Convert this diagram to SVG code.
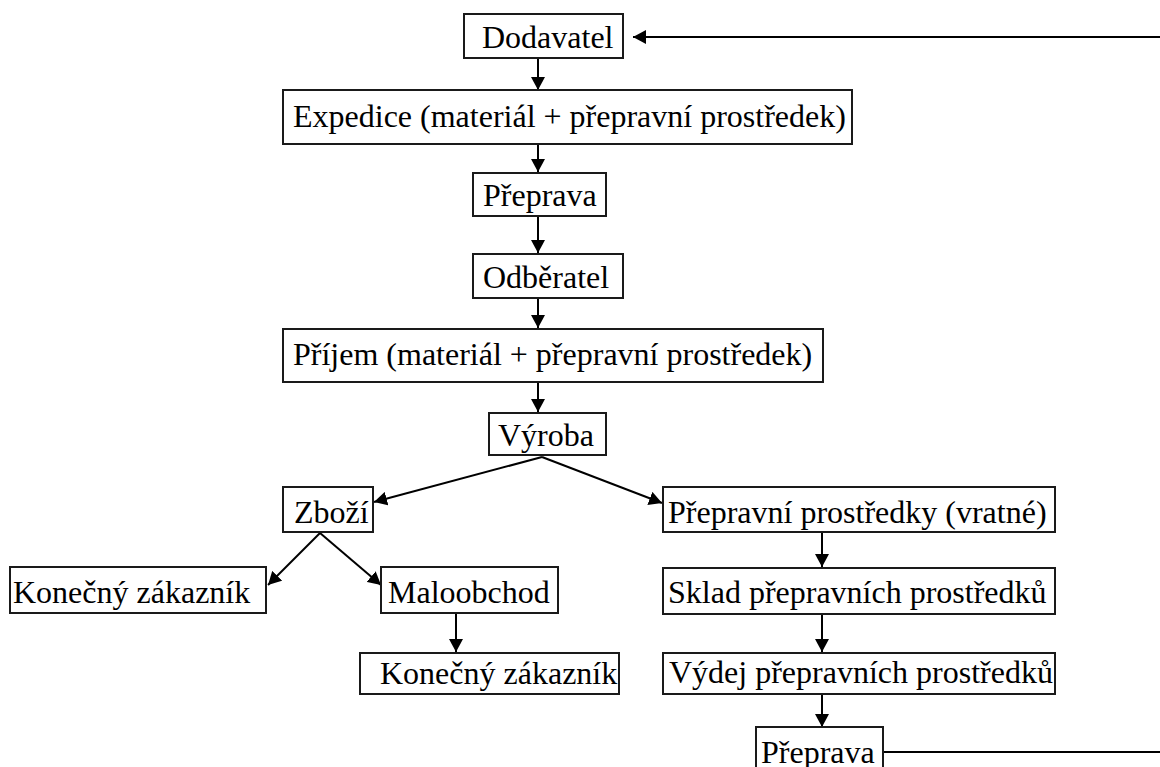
<svg xmlns="http://www.w3.org/2000/svg" width="1160" height="767" viewBox="0 0 1160 767">
<style>
.box{fill:#fff;stroke:#1a1a1a;stroke-width:2}
.t{font-family:"Liberation Serif","Times New Roman",serif;font-size:32px;fill:#000}
.c{fill:none;stroke:#000;stroke-width:2}
</style>
<defs>
<marker id="ah" markerUnits="userSpaceOnUse" markerWidth="14" markerHeight="14" refX="13" refY="7" orient="auto">
<path d="M0,0 L13,7 L0,14 z" fill="#000"/>
</marker>
</defs>
<rect width="1160" height="767" fill="#fff"/>
<g id="connectors">
<line class="c" x1="538" y1="58" x2="538" y2="90" marker-end="url(#ah)"/>
<line class="c" x1="538" y1="144" x2="538" y2="172" marker-end="url(#ah)"/>
<line class="c" x1="538" y1="216" x2="538" y2="253" marker-end="url(#ah)"/>
<line class="c" x1="538" y1="298" x2="538" y2="328" marker-end="url(#ah)"/>
<line class="c" x1="538" y1="382" x2="538" y2="412" marker-end="url(#ah)"/>
<line class="c" x1="542" y1="457" x2="374" y2="502" marker-end="url(#ah)"/>
<line class="c" x1="542" y1="457" x2="662" y2="503" marker-end="url(#ah)"/>
<line class="c" x1="320" y1="533" x2="268" y2="585" marker-end="url(#ah)"/>
<line class="c" x1="320" y1="533" x2="381" y2="585" marker-end="url(#ah)"/>
<line class="c" x1="456" y1="613" x2="456" y2="652" marker-end="url(#ah)"/>
<line class="c" x1="822" y1="532" x2="822" y2="567" marker-end="url(#ah)"/>
<line class="c" x1="822" y1="614" x2="822" y2="652" marker-end="url(#ah)"/>
<line class="c" x1="822" y1="694" x2="822" y2="727" marker-end="url(#ah)"/>
<path class="c" d="M883,752 H1175 V37 H633" marker-end="url(#ah)"/>
</g>
<g id="dodavatel"><rect class="box" x="464" y="14" width="159" height="44"/><text class="t" x="482" y="48">Dodavatel</text></g>
<g id="expedice"><rect class="box" x="283" y="90" width="569" height="54"/><text class="t" x="293" y="127">Expedice (materiál + přepravní prostředek)</text></g>
<g id="preprava1"><rect class="box" x="473" y="173" width="133" height="43"/><text class="t" x="483" y="206">Přeprava</text></g>
<g id="odberatel"><rect class="box" x="473" y="254" width="150" height="44"/><text class="t" x="483" y="288">Odběratel</text></g>
<g id="prijem"><rect class="box" x="283" y="329" width="540" height="53"/><text class="t" x="293" y="365">Příjem (materiál + přepravní prostředek)</text></g>
<g id="vyroba"><rect class="box" x="489" y="413" width="117" height="42"/><text class="t" x="498" y="446">Výroba</text></g>
<g id="zbozi"><rect class="box" x="283" y="487" width="90" height="45"/><text class="t" x="294" y="523">Zboží</text></g>
<g id="konecny1"><rect class="box" x="10" y="567" width="256" height="46"/><text class="t" x="13" y="603">Konečný zákazník</text></g>
<g id="maloobchod"><rect class="box" x="381" y="567" width="177" height="46"/><text class="t" x="388" y="603">Maloobchod</text></g>
<g id="konecny2"><rect class="box" x="360" y="653" width="259" height="41"/><text class="t" x="380" y="684">Konečný zákazník</text></g>
<g id="prepravni"><rect class="box" x="663" y="487" width="392" height="45"/><text class="t" x="668" y="523">Přepravní prostředky (vratné)</text></g>
<g id="sklad"><rect class="box" x="663" y="568" width="392" height="46"/><text class="t" x="668" y="603">Sklad přepravních prostředků</text></g>
<g id="vydej"><rect class="box" x="663" y="653" width="392" height="41"/><text class="t" x="669" y="683">Výdej přepravních prostředků</text></g>
<g id="preprava2"><rect class="box" x="756" y="727" width="127" height="50"/><text class="t" x="761" y="763">Přeprava</text></g>
</svg>
